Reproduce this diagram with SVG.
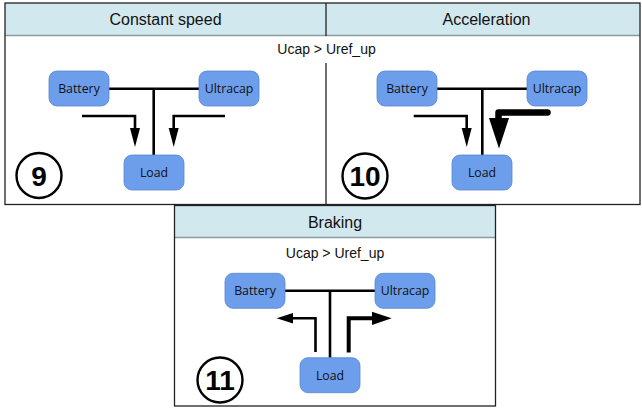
<svg xmlns="http://www.w3.org/2000/svg" width="642" height="409" viewBox="0 0 642 409">
<style>
.hdr{fill:#d1e8ee}
.frame{fill:none;stroke:#222;stroke-width:1.3}
.hline{stroke:#8a9aa0;stroke-width:1.3}
.htxt{font-family:"Liberation Sans",Arial,sans-serif;font-size:16px;fill:#111;text-anchor:middle}
.cond{font-family:"Liberation Sans",Arial,sans-serif;font-size:14px;fill:#111;text-anchor:middle}
.node rect{fill:#6d9eeb;stroke:#5a86cc;stroke-width:0.8}
.node text{font-family:"Open Sans","DejaVu Sans",sans-serif;font-size:12.3px;fill:#111;text-anchor:middle}
.bus{stroke:#000;stroke-width:2.6;fill:none}
.arr{stroke:#000;stroke-width:2.6;fill:none}
.head{fill:#000}
.num circle{fill:#fff;stroke:#000;stroke-width:2.4}
.num text{font-family:"Liberation Sans",Arial,sans-serif;font-weight:bold;font-size:28px;fill:#000;text-anchor:middle}
</style>

<g id="panels">
  <rect class="hdr" x="5" y="3" width="635" height="33"/>
  <line class="hline" x1="5" y1="35.5" x2="640" y2="35.5"/>
  <rect class="frame" x="5" y="3" width="635" height="201.5"/>
  <line class="frame" x1="326" y1="3" x2="326" y2="36"/>
  <line class="frame" x1="326" y1="63" x2="326" y2="205"/>
  <text class="htxt" x="165.5" y="25">Constant speed</text>
  <text class="htxt" x="486.5" y="25">Acceleration</text>
  <text class="cond" x="326.5" y="54">Ucap &gt; Uref_up</text>

  <rect x="174.5" y="205.5" width="321" height="200.5" fill="#fff"/>
  <rect class="hdr" x="174.5" y="205.5" width="321" height="32.5"/>
  <line class="hline" x1="174.5" y1="237.5" x2="495.5" y2="237.5"/>
  <rect class="frame" x="174.5" y="205.5" width="321" height="200.5"/>
  <text class="htxt" x="335" y="228">Braking</text>
  <text class="cond" x="335" y="258">Ucap &gt; Uref_up</text>
</g>

<g id="connectors">
  <!-- panel 1 -->
  <path class="bus" d="M109,88.7 H199 M153.7,88.7 V155"/>
  <path class="arr" d="M82,116 H135 V130"/>
  <polygon class="head" points="130,128 140,128 135,147"/>
  <path class="arr" d="M225,116 H173.7 V130"/>
  <polygon class="head" points="168.7,128 178.7,128 173.7,147"/>
  <!-- panel 2 -->
  <path class="bus" d="M437,88.7 H527 M482.3,88.7 V155"/>
  <path class="arr" d="M413.7,116 H466.7 V130"/>
  <polygon class="head" points="461.7,128 471.7,128 466.7,147"/>
  <path d="M547.5,112.5 H498.5 V124" stroke="#000" stroke-width="6.5" fill="none" stroke-linecap="round" stroke-linejoin="round"/>
  <polygon class="head" points="489,118 509,118 499,148.5"/>
  <!-- panel 3 -->
  <path class="bus" d="M285,290.7 H375 M330,290.7 V357.7"/>
  <path class="arr" d="M315.5,352 V318.3 H292"/>
  <polygon class="head" points="293,313 293,323.5 276.7,318.3"/>
  <path d="M348.7,352.5 V318.3 H374" stroke="#000" stroke-width="4" fill="none"/>
  <polygon class="head" points="372,311.8 372,325 391.7,318.3"/>
</g>

<g id="battery1" class="node"><rect x="49" y="71" width="60" height="35" rx="8"/><text x="79" y="93">Battery</text></g>
<g id="ultracap1" class="node"><rect x="199" y="71" width="60" height="35" rx="8"/><text x="229" y="93">Ultracap</text></g>
<g id="load1" class="node"><rect x="124" y="155" width="60" height="35" rx="8"/><text x="154" y="177">Load</text></g>

<g id="battery2" class="node"><rect x="377" y="71" width="60" height="35" rx="8"/><text x="407" y="93">Battery</text></g>
<g id="ultracap2" class="node"><rect x="527" y="71" width="60" height="35" rx="8"/><text x="557" y="93">Ultracap</text></g>
<g id="load2" class="node"><rect x="452" y="155" width="60" height="35" rx="8"/><text x="482" y="177">Load</text></g>

<g id="battery3" class="node"><rect x="225" y="273.3" width="60" height="35" rx="8"/><text x="255" y="295.3">Battery</text></g>
<g id="ultracap3" class="node"><rect x="375" y="273.3" width="60" height="35" rx="8"/><text x="405" y="295.3">Ultracap</text></g>
<g id="load3" class="node"><rect x="300" y="357.7" width="60" height="35" rx="8"/><text x="330" y="379.7">Load</text></g>

<g id="num9" class="num"><circle cx="39" cy="175.5" r="22.5"/><text x="39" y="185.5">9</text></g>
<g id="num10" class="num"><circle cx="365" cy="176" r="22.5"/><text x="365" y="186">10</text></g>
<g id="num11" class="num"><circle cx="220" cy="380" r="22.5"/><text x="220" y="390">11</text></g>
</svg>
